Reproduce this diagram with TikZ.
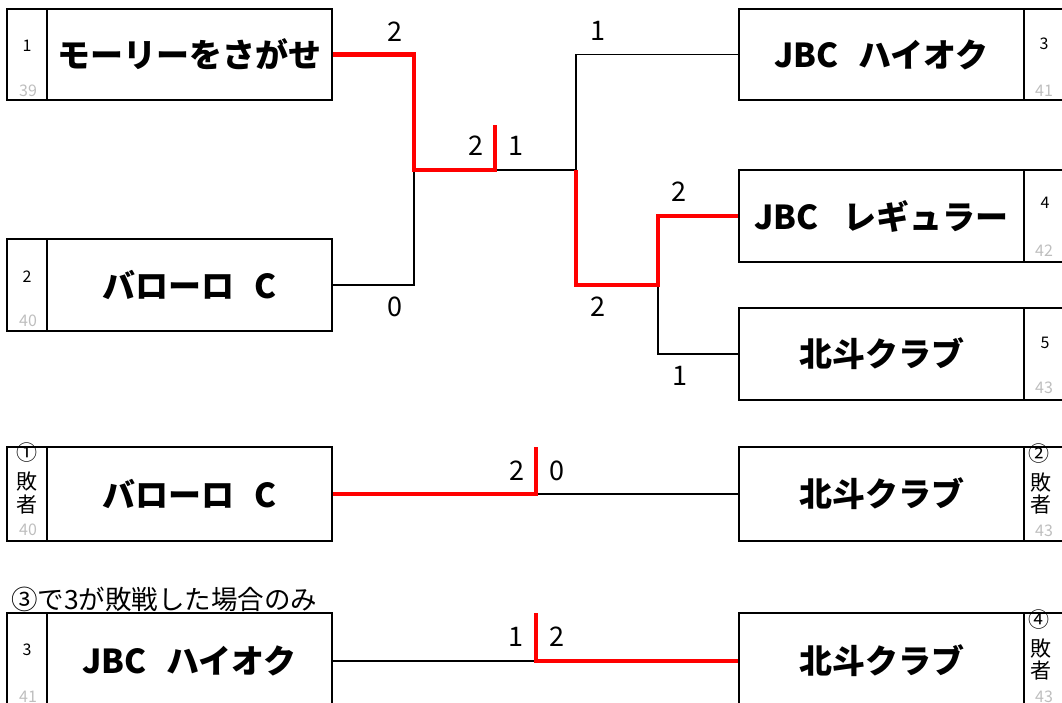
\documentclass[tikz,border=0pt]{standalone}
\usepackage{fontspec}
\newfontfamily\jp{Noto Sans CJK JP}
\definecolor{wred}{RGB}{255,0,0}
\definecolor{lgray}{RGB}{190,190,190}
\tikzset{
  cellline/.style={draw=black,line width=2.4pt,inner sep=0pt},
  team/.style={cellline,minimum width=285pt,font=\jp\bfseries\fontsize{33}{35}\selectfont},
  numcell/.style={cellline,minimum width=40pt},
  num/.style={inner sep=0pt,font=\jp\fontsize{16}{16}\selectfont},
  gnum/.style={inner sep=0pt,text=lgray,font=\jp\fontsize{16}{16}\selectfont},
  vch/.style={inner sep=0pt,font=\jp\fontsize{21}{21}\selectfont},
  score/.style={inner sep=0pt,font=\jp\fontsize{27}{27}\selectfont},
  note/.style={inner sep=0pt,font=\jp\fontsize{26.5}{26.5}\selectfont},
  bline/.style={draw=black,line width=1.4pt},
  rline/.style={draw=wred,line width=4.4pt,line join=miter}
}
\begin{document}
\begin{tikzpicture}[x=1pt,y=-1pt]
\useasboundingbox (0,0) rectangle (1062,703);
\clip (0,0) rectangle (1062,703);
% ---------- top bracket: left teams
\node[team,minimum height=91pt] (t1) at (189.5,54.5) {モーリーをさがせ};
\node[numcell,minimum height=91pt] (c1) at (27,54.5) {};
\node[team,minimum height=92pt] (t2) at (189.5,285) {バローロ\hspace{0.6em}C};
\node[numcell,minimum height=92pt] (c2) at (27,285) {};
% right teams
\node[team,minimum height=91pt] (t3) at (881.5,54.5) {JBC\hspace{0.6em}ハイオク};
\node[numcell,minimum height=91pt] (c3) at (1044,54.5) {};
\node[team,minimum height=92pt] (t4) at (881.5,216) {JBC\hspace{0.75em}レギュラー};
\node[numcell,minimum height=92pt] (c4) at (1044,216) {};
\node[team,minimum height=92pt] (t5) at (881.5,354) {北斗クラブ};
\node[numcell,minimum height=92pt] (c5) at (1044,354) {};
% small numbers
\node[num]  (n1) at (27,46) {1};
\node[gnum] (g1) at (28,91) {39};
\node[num]  (n2) at (27,277) {2};
\node[gnum] (g2) at (28,321) {40};
\node[num]  (n3) at (1044,44) {3};
\node[gnum] (g3) at (1044,91) {41};
\node[num]  (n4) at (1045,203) {4};
\node[gnum] (g4) at (1044,251) {42};
\node[num]  (n5) at (1045,343) {5};
\node[gnum] (g5) at (1044,388) {43};
% junctions
\coordinate (j1) at (414,170);
\coordinate (m1) at (495,170);
\coordinate (m1top) at (495,125);
\coordinate (j2) at (576,170);
\coordinate (j3) at (658,285);
% black connectors
\draw[bline] (t2.east) -| (j1);
\draw[bline] (m1) -- (j2);
\draw[bline] (t3.west) -| (j2);
\draw[bline] (j3) |- (t5.west);
% red connectors
\draw[rline] (t1.east) -| (j1) -- (m1) -- (m1top);
\draw[rline] (j2) |- (j3) |- (t4.west);
% scores
\node[score] (s1) at (394.5,31.5) {2};
\node[score] (s2) at (475.5,146) {2};
\node[score] (s3) at (516,146) {1};
\node[score] (s4) at (597.5,31) {1};
\node[score] (s5) at (679,192) {2};
\node[score] (s6) at (394.5,307) {0};
\node[score] (s7) at (598,307) {2};
\node[score] (s8) at (679.5,376) {1};
% ---------- match A
\node[team,minimum height=94pt] (bA) at (189.5,494) {バローロ\hspace{0.6em}C};
\node[numcell,minimum height=94pt] (cA) at (27,494) {};
\node[team,minimum height=94pt] (bA2) at (881.5,494) {北斗クラブ};
\node[numcell,minimum height=94pt] (cA2) at (1044,494) {};
\node[vch]  (a1) at (27,453) {①};
\node[vch]  (a2) at (27,482) {敗};
\node[vch]  (a3) at (27,505) {者};
\node[gnum] (a4) at (28,530) {40};
\node[vch]  (b1) at (1039,454) {②};
\node[vch]  (b2) at (1041,483) {敗};
\node[vch]  (b3) at (1041,505) {者};
\node[gnum] (b4) at (1044,531) {43};
\coordinate (k1) at (536,494);
\coordinate (k1top) at (536,447);
\draw[bline] (k1) -- (bA2.west);
\draw[rline] (bA.east) -- (k1) -- (k1top);
\node[score] (s9) at (516.5,471) {2};
\node[score] (s10) at (556.5,471) {0};
% ---------- match B
\node[note,anchor=base west] (nt) at (11,609) {③で3が敗戦した場合のみ};
\node[team,minimum height=96pt] (bB) at (189.5,661) {JBC\hspace{0.6em}ハイオク};
\node[numcell,minimum height=96pt] (cB) at (27,661) {};
\node[team,minimum height=96pt] (bB2) at (881.5,661) {北斗クラブ};
\node[numcell,minimum height=96pt] (cB2) at (1044,661) {};
\node[num]  (d1) at (27,650) {3};
\node[gnum] (d2) at (28,697) {41};
\node[vch]  (e1) at (1039,620) {④};
\node[vch]  (e2) at (1041,649) {敗};
\node[vch]  (e3) at (1041,671) {者};
\node[gnum] (e4) at (1044,697) {43};
\coordinate (k2) at (536,661);
\coordinate (k2top) at (536,613);
\draw[bline] (bB.east) -- (k2);
\draw[rline] (k2top) -- (k2) -- (bB2.west);
\node[score] (s11) at (516,637) {1};
\node[score] (s12) at (556.5,637) {2};
\end{tikzpicture}
\end{document}
